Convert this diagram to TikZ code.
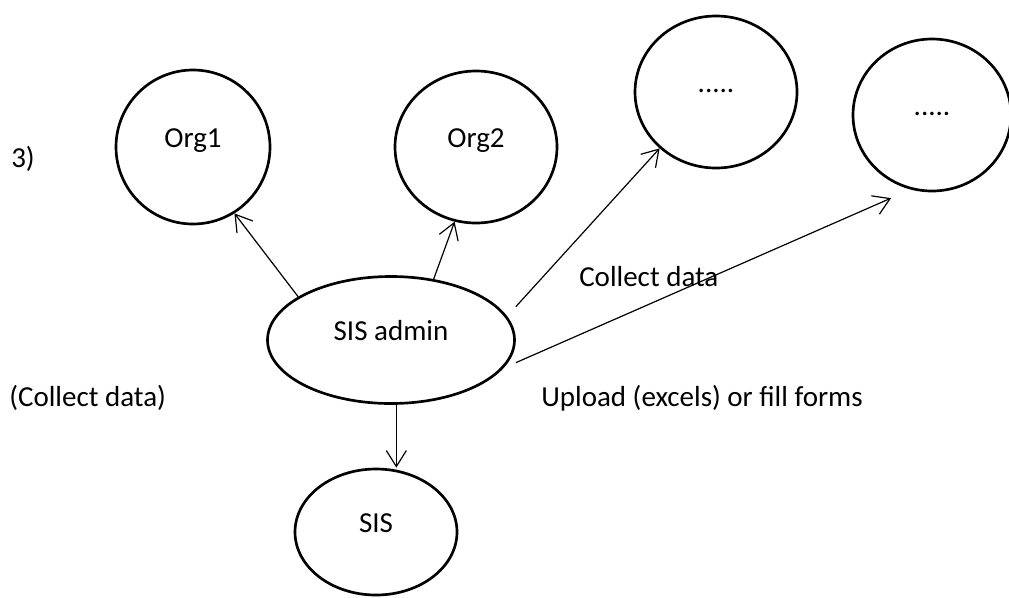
\documentclass[tikz,border=0pt]{standalone}
\usepackage{fontspec}
\setmainfont{Carlito}
\usetikzlibrary{shapes.geometric,arrows.meta}

\begin{document}
\begin{tikzpicture}[x=0.75pt,y=0.75pt,yscale=-1,xscale=1,
  font=\fontsize{21.75}{26}\selectfont,
  oval/.style={draw,ellipse,line width=2pt,inner sep=0pt,text height=10pt,text depth=10pt},
  flow/.style={-{Straight Barb[length=12pt,width=15pt]},line width=0.9pt},
  txt/.style={anchor=base west,inner sep=0.75pt}]
\useasboundingbox (0,0) rectangle (1009,597);

%Ellipses
\node [oval,minimum width=115.5pt,minimum height=115.5pt] (org1) at (193,147) {Org1};
\node [oval,minimum width=121.5pt,minimum height=114pt] (org2) at (476,147) {Org2};
\node [oval,minimum width=121.5pt,minimum height=114pt] (dots1) at (716,92) {.....};
\node [oval,minimum width=118.5pt,minimum height=114pt] (dots2) at (932,115) {.....};
\node [oval,minimum width=185.25pt,minimum height=95.25pt] (admin) at (391,340) {SIS admin};
\node [oval,minimum width=121.5pt,minimum height=94.5pt] (sis) at (376,532) {SIS};

%Arrows
\draw [flow] (admin.155) -- (org1.302);
\draw [flow] (admin.55) -- (org2.254);
\draw [flow] ([yshift=-25pt]admin.east) -- (dots1.225);
\draw [flow,shorten >=16pt] ([yshift=17pt]admin.east) -- (dots2.254);
\draw [flow] ([xshift=4pt]admin.south) -- ([xshift=4pt]admin.south |- sis.north);

% Text Node
\node [txt] (step) at (10,167) {3)};
% Text Node
\node [txt] (collectleft) at (8,406) {(Collect data)};
% Text Node
\node [txt] (collect) at (578,286) {Collect data};
% Text Node
\node [txt] (upload) at (540,406) {Upload (excels) or fill forms};

\end{tikzpicture}
\end{document}
